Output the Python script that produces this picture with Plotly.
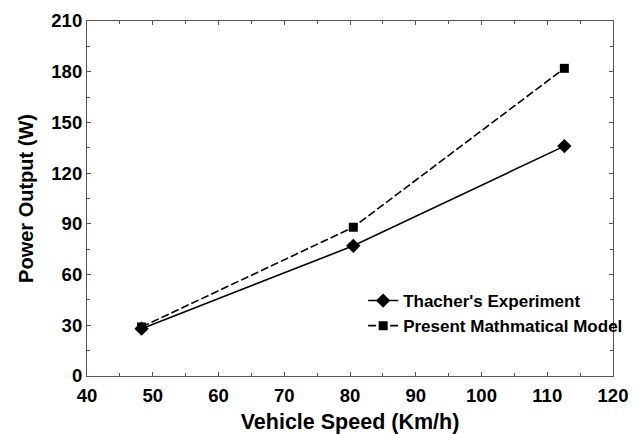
import plotly.graph_objects as go

speed = [48.3, 80.5, 112.6]
thacher = [28, 77, 136]
model = [29, 88, 182]
x_ticks = [40, 50, 60, 70, 80, 90, 100, 110, 120]
y_ticks = [0, 30, 60, 90, 120, 150, 180, 210]

font_family = "Liberation Sans, Arial, sans-serif"

fig = go.Figure()
fig.add_trace(go.Scatter(
    x=speed, y=thacher, mode="lines+markers", name="<b>Thacher's Experiment</b>",
    line=dict(color="black", width=1.6, dash="solid"),
    marker=dict(symbol="diamond", size=11, color="black"),
))
fig.add_trace(go.Scatter(
    x=speed, y=model, mode="lines+markers", name="<b>Present Mathmatical Model</b>",
    line=dict(color="black", width=1.6, dash="8px,3px"),
    marker=dict(symbol="square", size=9, color="black"),
))

axis_common = dict(
    showline=True, linecolor="#555555", linewidth=1.2, mirror="ticks",
    ticks="inside", ticklen=4, tickcolor="#555555", tickwidth=1,
    showgrid=False, zeroline=False, automargin=False,
    tickfont=dict(family=font_family, size=18.5, color="black", weight="bold"),
)

fig.update_xaxes(
    range=[40, 120], tickvals=x_ticks, ticktext=[str(v) for v in x_ticks],
    minor=dict(ticks="inside", ticklen=3, dtick=5, tickcolor="#555555"),
    title_text="Vehicle Speed (Km/h)", title_standoff=9,
    title_font=dict(family=font_family, size=21.5, color="black", weight="bold"),
    ticklabelstandoff=3,
    **axis_common,
)
fig.update_yaxes(
    range=[0, 210], tickvals=y_ticks, ticktext=[str(v) for v in y_ticks],
    minor=dict(ticks="inside", ticklen=3, dtick=15, tickcolor="#555555"),
    title_text="Power Output (W)", title_standoff=12,
    title_font=dict(family=font_family, size=20, color="black", weight="bold"),
    **axis_common,
)

fig.update_layout(
    width=640, height=434,
    margin=dict(l=87, r=18, t=21, b=58),
    plot_bgcolor="white", paper_bgcolor="white",
    legend=dict(
        x=0.525, y=0.262, xanchor="left", yanchor="top",
        bgcolor="rgba(0,0,0,0)", borderwidth=0,
        font=dict(family=font_family, size=17, color="black"),
        tracegroupgap=0,
    ),
)

fig.write_html("out.html")
